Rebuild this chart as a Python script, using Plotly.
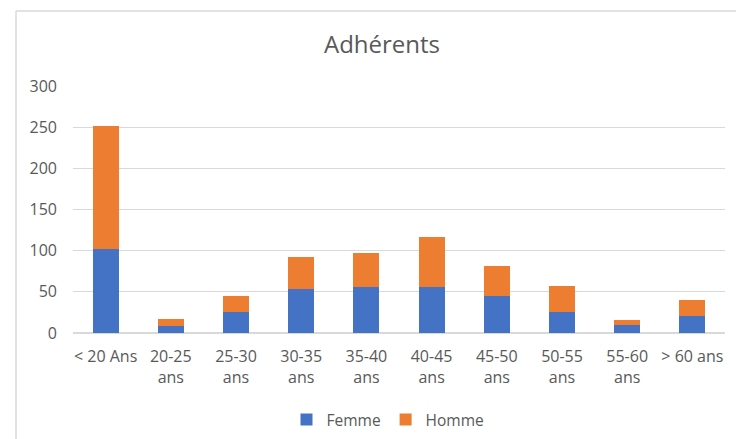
import plotly.graph_objects as go

categories = ["< 20 Ans", "20-25<br>ans", "25-30<br>ans", "30-35<br>ans", "35-40<br>ans",
              "40-45<br>ans", "45-50<br>ans", "50-55<br>ans", "55-60<br>ans", "> 60 ans"]
femme = [102, 9, 26, 54, 56, 56, 45, 26, 10, 21]
homme = [150, 8, 19, 38, 41, 61, 36, 31, 6, 19]
y_ticks = [0, 50, 100, 150, 200, 250, 300]

FONT = "Open Sans"
GRAY = "#595959"

fig = go.Figure()
fig.add_trace(go.Bar(name="Femme", x=categories, y=femme, marker_color="#4472C4",
                     marker_line_width=0))
fig.add_trace(go.Bar(name="Homme", x=categories, y=homme, marker_color="#ED7D31",
                     marker_line_width=0))

L, R, T, B = 73, 11, 86, 106
W, H = 736, 439
pw, ph = W - L - R, H - T - B

fig.update_layout(
    barmode="stack",
    bargap=0.6,
    width=W, height=H,
    margin=dict(l=L, r=R, t=T, b=B, autoexpand=False),
    paper_bgcolor="white",
    plot_bgcolor="white",
    font=dict(family=FONT, size=16, color=GRAY),
    title=dict(text="Adhérents", x=382 / W, xref="container", xanchor="center",
               y=1 - 45 / H, yref="container", yanchor="middle",
               font=dict(family=FONT, size=24, color=GRAY)),
    showlegend=True,
    legend=dict(orientation="h", x=388 / W, xref="container", xanchor="center",
                y=1 - 420 / H, yref="container", yanchor="middle",
                font=dict(family=FONT, size=15.5, color=GRAY),
                itemwidth=30, traceorder="normal"),
    xaxis=dict(showgrid=False, showline=False, ticks="", automargin=False,
               ticklabelstandoff=12, tickfont=dict(size=16, color=GRAY)),
    yaxis=dict(range=[0, 300], tickvals=y_ticks, showgrid=True, gridcolor="#D9D9D9",
               gridwidth=1, zeroline=True, zerolinecolor="#D9D9D9", showline=False,
               ticks="", automargin=False, ticklabelstandoff=15,
               tickfont=dict(size=16, color=GRAY)),
    shapes=[
        dict(type="line", xref="paper", yref="paper",
             x0=(16 - L) / pw, x1=(16 - L) / pw, y0=(H - B - 11) / ph, y1=(H - B - 440) / ph,
             line=dict(color="#D9D9D9", width=1.5)),
        dict(type="line", xref="paper", yref="paper",
             x0=(16 - L) / pw, x1=(740 - L) / pw, y0=(H - B - 11) / ph, y1=(H - B - 11) / ph,
             line=dict(color="#D9D9D9", width=1.5)),
    ],
)

fig.write_html("out.html", config={"displayModeBar": False},
               post_script="document.body.style.margin='0px';document.body.style.overflow='hidden';")
